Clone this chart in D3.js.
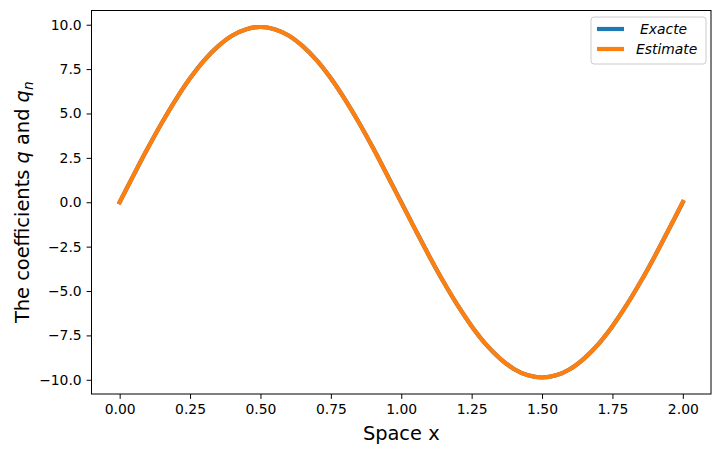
<!DOCTYPE html>
<html>
<head>
<meta charset="utf-8">
<script src="https://cdn.jsdelivr.net/npm/d3@7"></script>
<style>
  body { margin: 0; background: #fff; }
  text { font-family: "DejaVu Sans", sans-serif; }
</style>
</head>
<body>
<div id="chart"></div>
<script>
// values
const xs = [0, 0.05, 0.1, 0.15, 0.2, 0.25, 0.3, 0.35, 0.4, 0.45, 0.5,
  0.55, 0.6, 0.65, 0.7, 0.75, 0.8, 0.85, 0.9, 0.95, 1.0,
  1.05, 1.1, 1.15, 1.2, 1.25, 1.3, 1.35, 1.4, 1.45, 1.5,
  1.55, 1.6, 1.65, 1.7, 1.75, 1.8, 1.85, 1.9, 1.95, 2.0];
const exacte = [0, 1.54, 3.05, 4.48, 5.80, 6.98, 7.99, 8.79, 9.39, 9.75, 9.87,
  9.75, 9.39, 8.79, 7.99, 6.98, 5.80, 4.48, 3.05, 1.54, 0,
  -1.54, -3.05, -4.48, -5.80, -6.98, -7.99, -8.79, -9.39, -9.75, -9.87,
  -9.75, -9.39, -8.79, -7.99, -6.98, -5.80, -4.48, -3.05, -1.54, 0];
const estimate = [0, 1.55, 3.05, 4.48, 5.80, 6.98, 7.98, 8.79, 9.39, 9.75, 9.87,
  9.75, 9.39, 8.79, 7.99, 6.98, 5.79, 4.48, 3.04, 1.52, -0.02,
  -1.55, -3.06, -4.48, -5.80, -6.98, -7.99, -8.79, -9.39, -9.75, -9.87,
  -9.75, -9.39, -8.79, -7.99, -6.98, -5.80, -4.48, -3.05, -1.53, 0.02];
const xTicks = [0, 0.25, 0.5, 0.75, 1.0, 1.25, 1.5, 1.75, 2.0];
const yTicks = [-10, -7.5, -5, -2.5, 0, 2.5, 5, 7.5, 10];
const seriesNames = ["Exacte", "Estimate"];
const colors = ["#1f77b4", "#ff7f0e"];

const width = 720, height = 453;
const margin = {top: 10.5, right: 9, bottom: 59, left: 91.5};

const svg = d3.select("#chart").append("svg")
  .attr("width", width)
  .attr("height", height);

const x = d3.scaleLinear()
  .domain([-0.1, 2.1])
  .range([margin.left, width - margin.right]);

const y = d3.scaleLinear()
  .domain([-10.8, 10.8])
  .range([height - margin.bottom, margin.top]);

const fmt = d3.format(".2f");
const fmtY = v => d3.format(".1f")(v).replace("-", "\u2212");

// axes
let xAxis = svg.append("g")
  .attr("transform", "translate(0," + (height - margin.bottom) + ")")
  .call(d3.axisBottom(x).tickValues(xTicks).tickFormat(fmt).tickSize(4.9).tickPadding(4.9));

let yAxis = svg.append("g")
  .attr("transform", "translate(" + margin.left + ",0)")
  .call(d3.axisLeft(y).tickValues(yTicks).tickFormat(fmtY).tickSize(4.9).tickPadding(4.9));

[xAxis, yAxis].forEach(function(a) {
  a.select(".domain").remove();
  a.selectAll("text")
    .style("font-size", "13.9px")
    .style("font-family", "DejaVu Sans")
    .attr("fill", "#000");
  a.selectAll("line").attr("stroke", "#000").attr("stroke-width", 1);
});

// lines
let line = d3.line()
  .x((d, i) => x(xs[i]))
  .y(d => y(d))
  .curve(d3.curveCatmullRom);

[exacte, estimate].forEach(function(s, i) {
  svg.append("path")
    .datum(s)
    .attr("fill", "none")
    .attr("stroke", colors[i])
    .attr("stroke-width", 4.2)
    .attr("stroke-linecap", "square")
    .attr("d", line);
});

// frame
svg.append("rect")
  .attr("x", margin.left)
  .attr("y", margin.top)
  .attr("width", width - margin.left - margin.right)
  .attr("height", height - margin.top - margin.bottom)
  .attr("fill", "none")
  .attr("stroke", "#000")
  .attr("stroke-width", 1);

// axis labels
svg.append("text")
  .attr("x", (margin.left + width - margin.right) / 2)
  .attr("y", 440)
  .attr("text-anchor", "middle")
  .style("font-size", "19.4px")
  .text("Space x");

let yl = svg.append("text")
  .attr("transform", "translate(29," + ((margin.top + height - margin.bottom) / 2) + ") rotate(-90)")
  .attr("text-anchor", "middle")
  .style("font-size", "19.4px");
yl.append("tspan").text("The coefficients ");
yl.append("tspan").style("font-style", "italic").text("q");
yl.append("tspan").text(" and ");
yl.append("tspan").style("font-style", "italic").text("q");
yl.append("tspan").style("font-style", "italic").style("font-size", "13.6px").attr("dy", 4).text("n");

// legend
let lg = svg.append("g").attr("transform", "translate(591,17)");
lg.append("rect")
  .attr("width", 115)
  .attr("height", 47)
  .attr("rx", 3)
  .attr("fill", "#fff")
  .attr("fill-opacity", 0.8)
  .attr("stroke", "#ccc")
  .attr("stroke-width", 1);

seriesNames.forEach(function(n, i) {
  let yy = 12 + i * 20;
  lg.append("line")
    .attr("x1", 6).attr("x2", 33)
    .attr("y1", yy).attr("y2", yy)
    .attr("stroke", colors[i])
    .attr("stroke-width", 4.2);
  lg.append("text")
    .attr("x", i == 0 ? 49 : 45)
    .attr("y", yy + 5)
    .style("font-size", "13.9px")
    .style("font-style", "italic")
    .text(n);
});
</script>
</body>
</html>
